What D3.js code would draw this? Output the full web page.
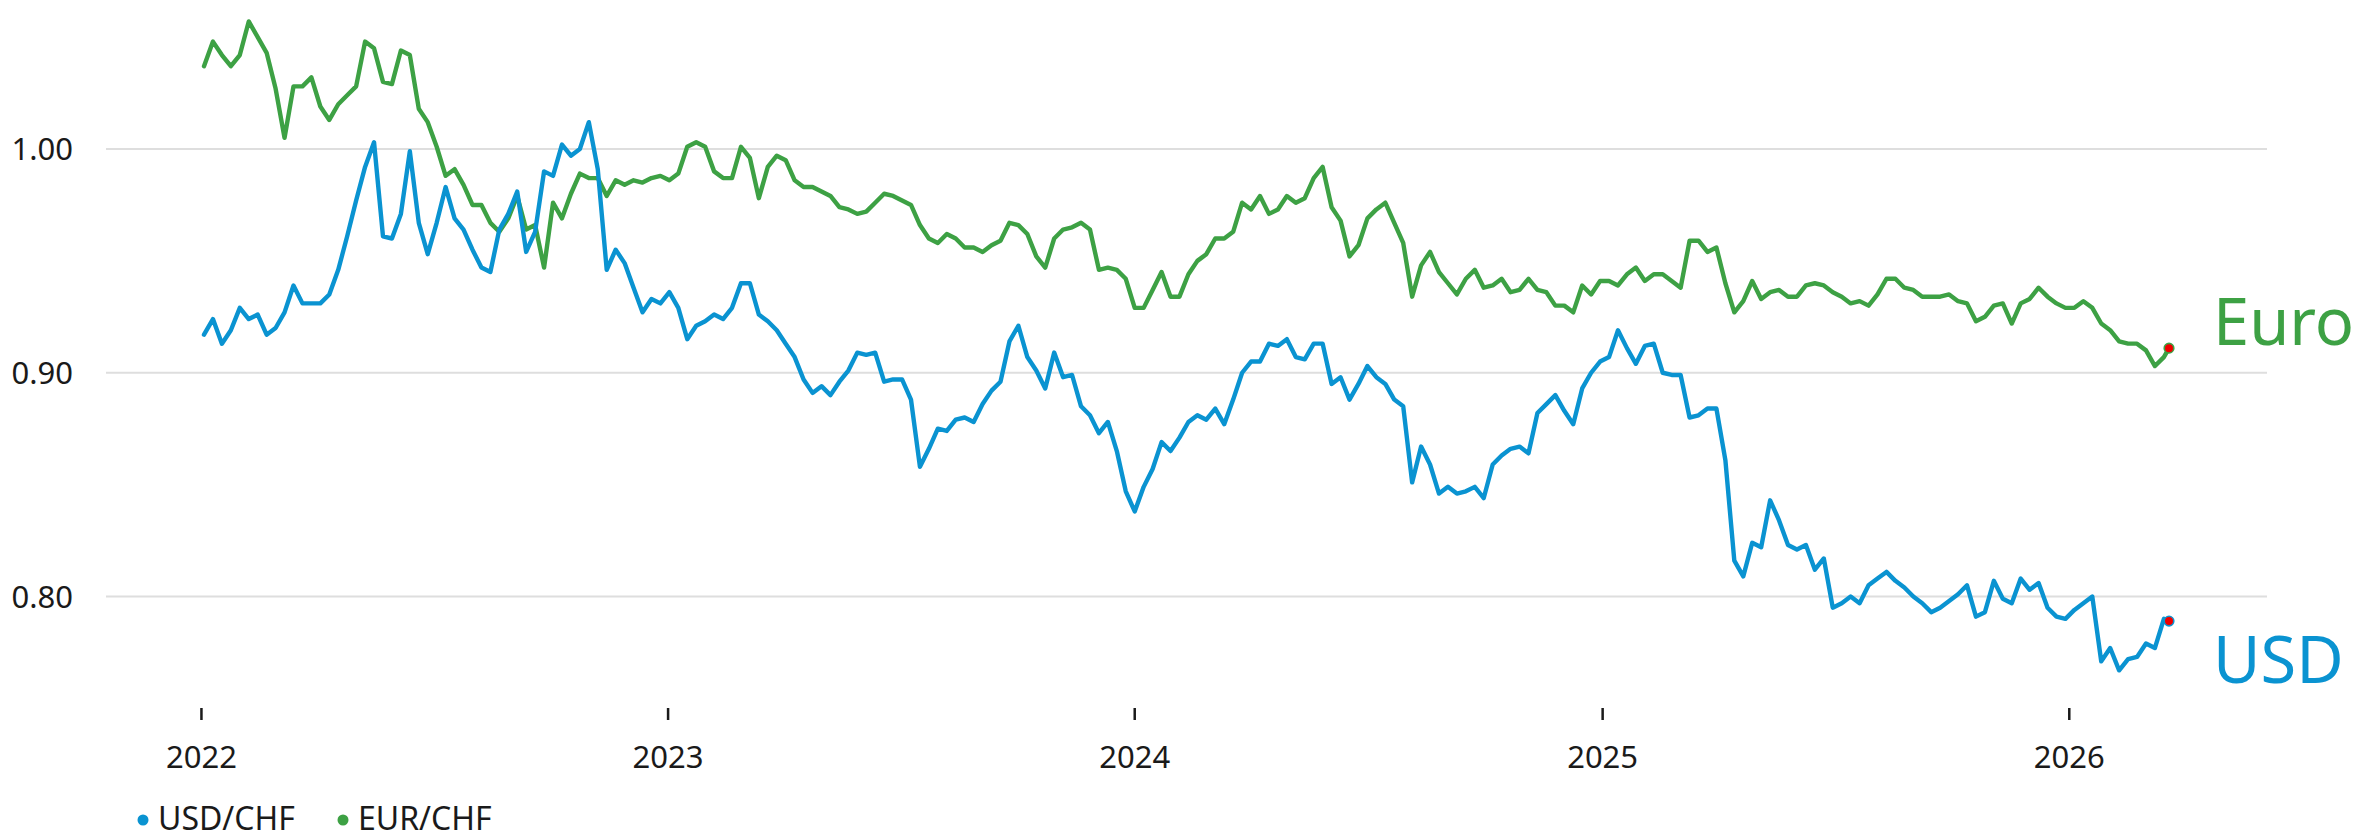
<!DOCTYPE html>
<html>
<head>
<meta charset="utf-8">
<script src="https://cdn.jsdelivr.net/npm/d3@7"></script>
<style>
  html, body { margin: 0; padding: 0; background: #fff; }
  #wrapper { width: 2379px; height: 839px; }
  text { font-family: "Noto Sans", sans-serif; fill: #1a1a1a; }
</style>
</head>
<body>
<div id="wrapper"></div>
<script>
// weekly closes (Mondays from 3 Jan 2022), last one is 20 Mar 2026
const firstWeek = new Date(2022, 0, 3)
const lastWeek = new Date(2026, 2, 17)
const lastDay = new Date(2026, 2, 20)

const usdChf = [
  0.917, 0.924, 0.913, 0.919, 0.929, 0.924, 0.926, 0.917, 0.920, 0.927,
  0.939, 0.931, 0.931, 0.931, 0.935, 0.946, 0.961, 0.977, 0.992, 1.003,
  0.961, 0.960, 0.971, 0.999, 0.967, 0.953, 0.967, 0.983, 0.969, 0.964,
  0.955, 0.947, 0.945, 0.964, 0.971, 0.981, 0.954, 0.963, 0.990, 0.988,
  1.002, 0.997, 1.000, 1.012, 0.991, 0.946, 0.955, 0.949, 0.938, 0.927,
  0.933, 0.931, 0.936, 0.929, 0.915, 0.921, 0.923, 0.926, 0.924, 0.929,
  0.940, 0.940, 0.926, 0.923, 0.919, 0.913, 0.907, 0.897, 0.891, 0.894,
  0.890, 0.896, 0.901, 0.909, 0.908, 0.909, 0.896, 0.897, 0.897, 0.888,
  0.858, 0.866, 0.875, 0.874, 0.879, 0.880, 0.878, 0.886, 0.892, 0.896,
  0.914, 0.921, 0.907, 0.901, 0.893, 0.909, 0.898, 0.899, 0.885, 0.881,
  0.873, 0.878, 0.865, 0.847, 0.838, 0.849, 0.857, 0.869, 0.865, 0.871,
  0.878, 0.881, 0.879, 0.884, 0.877, 0.888, 0.900, 0.905, 0.905, 0.913,
  0.912, 0.915, 0.907, 0.906, 0.913, 0.913, 0.895, 0.898, 0.888, 0.895,
  0.903, 0.898, 0.895, 0.888, 0.885, 0.851, 0.867, 0.859, 0.846, 0.849,
  0.846, 0.847, 0.849, 0.844, 0.859, 0.863, 0.866, 0.867, 0.864, 0.882,
  0.886, 0.890, 0.883, 0.877, 0.893, 0.900, 0.905, 0.907, 0.919, 0.911,
  0.904, 0.912, 0.913, 0.900, 0.899, 0.899, 0.880, 0.881, 0.884, 0.884,
  0.861, 0.816, 0.809, 0.824, 0.822, 0.843, 0.834, 0.823, 0.821, 0.823,
  0.812, 0.817, 0.795, 0.797, 0.800, 0.797, 0.805, 0.808, 0.811, 0.807,
  0.804, 0.800, 0.797, 0.793, 0.795, 0.798, 0.801, 0.805, 0.791, 0.793,
  0.807, 0.799, 0.797, 0.808, 0.803, 0.806, 0.795, 0.791, 0.790, 0.794,
  0.797, 0.800, 0.771, 0.777, 0.767, 0.772, 0.773, 0.779, 0.777, 0.790,
  0.789
]

const eurChf = [
  1.037, 1.048, 1.042, 1.037, 1.042, 1.057, 1.050, 1.043, 1.027, 1.005,
  1.028, 1.028, 1.032, 1.019, 1.013, 1.020, 1.024, 1.028, 1.048, 1.045,
  1.030, 1.029, 1.044, 1.042, 1.018, 1.012, 1.001, 0.988, 0.991, 0.984,
  0.975, 0.975, 0.967, 0.963, 0.969, 0.979, 0.964, 0.966, 0.947, 0.976,
  0.969, 0.980, 0.989, 0.987, 0.987, 0.979, 0.986, 0.984, 0.986, 0.985,
  0.987, 0.988, 0.986, 0.989, 1.001, 1.003, 1.001, 0.990, 0.987, 0.987,
  1.001, 0.996, 0.978, 0.992, 0.997, 0.995, 0.986, 0.983, 0.983, 0.981,
  0.979, 0.974, 0.973, 0.971, 0.972, 0.976, 0.980, 0.979, 0.977, 0.975,
  0.966, 0.960, 0.958, 0.962, 0.960, 0.956, 0.956, 0.954, 0.957, 0.959,
  0.967, 0.966, 0.962, 0.952, 0.947, 0.960, 0.964, 0.965, 0.967, 0.964,
  0.946, 0.947, 0.946, 0.942, 0.929, 0.929, 0.937, 0.945, 0.934, 0.934,
  0.944, 0.950, 0.953, 0.960, 0.960, 0.963, 0.976, 0.973, 0.979, 0.971,
  0.973, 0.979, 0.976, 0.978, 0.987, 0.992, 0.974, 0.968, 0.952, 0.957,
  0.969, 0.973, 0.976, 0.967, 0.958, 0.934, 0.948, 0.954, 0.945, 0.940,
  0.935, 0.942, 0.946, 0.938, 0.939, 0.942, 0.936, 0.937, 0.942, 0.937,
  0.936, 0.930, 0.930, 0.927, 0.939, 0.935, 0.941, 0.941, 0.939, 0.944,
  0.947, 0.941, 0.944, 0.944, 0.941, 0.938, 0.959, 0.959, 0.954, 0.956,
  0.940, 0.927, 0.932, 0.941, 0.933, 0.936, 0.937, 0.934, 0.934, 0.939,
  0.940, 0.939, 0.936, 0.934, 0.931, 0.932, 0.930, 0.935, 0.942, 0.942,
  0.938, 0.937, 0.934, 0.934, 0.934, 0.935, 0.932, 0.931, 0.923, 0.925,
  0.930, 0.931, 0.922, 0.931, 0.933, 0.938, 0.934, 0.931, 0.929, 0.929,
  0.932, 0.929, 0.922, 0.919, 0.914, 0.913, 0.913, 0.910, 0.903, 0.907,
  0.911
]

const yTicks = [0.80, 0.90, 1.00]
const seriesNames = ["USD/CHF", "EUR/CHF"]
const endLabels = ["USD", "Euro"]
const seriesColors = ["#0a93d1", "#3da144"]

function drawChart() {

  // 1. Access data

  const dates = d3.timeMonday.range(firstWeek, lastWeek)
  dates.push(lastDay)

  const series = [usdChf, eurChf].map((values, i) => ({
    name: seriesNames[i],
    label: endLabels[i],
    color: seriesColors[i],
    values: values.map((v, j) => ({ date: dates[j], value: v })),
  }))

  const dateAccessor = d => d.date
  const valueAccessor = d => d.value

  // 2. Create chart dimensions

  const dimensions = {
    width: 2379,
    height: 839,
    gridLeft: 106,
    gridRight: 2267,
    plotLeft: 204,
    plotRight: 2169,
    plotTop: 149,
    plotBottom: 596.5,
    tickTop: 708,
    tickBottom: 720,
    tickLabelY: 768,
    legendY: 820,
  }

  // 3. Draw canvas

  const wrapper = d3.select("#wrapper")
    .append("svg")
      .attr("width", dimensions.width)
      .attr("height", dimensions.height)

  const bounds = wrapper.append("g")

  // 4. Create scales

  const xScale = d3.scaleTime()
    .domain(d3.extent(dates))
    .range([dimensions.plotLeft, dimensions.plotRight])

  const yScale = d3.scaleLinear()
    .domain([0.80, 1.00])
    .range([dimensions.plotBottom, dimensions.plotTop])

  // 5. Draw peripherals

  const peripherals = bounds.append("g")

  peripherals.selectAll(".grid-line")
    .data(yTicks)
    .join("line")
      .attr("class", "grid-line")
      .attr("x1", dimensions.gridLeft)
      .attr("x2", dimensions.gridRight)
      .attr("y1", d => yScale(d))
      .attr("y2", d => yScale(d))
      .attr("stroke", "#dedede")
      .attr("stroke-width", 2)

  peripherals.selectAll(".y-label")
    .data(yTicks)
    .join("text")
      .attr("class", "y-label")
      .attr("x", 73)
      .attr("y", d => yScale(d))
      .attr("dy", "0.36em")
      .attr("text-anchor", "end")
      .style("font-size", "31px")
      .text(d => d3.format(".2f")(d))

  const years = d3.timeYear.range(new Date(2022, 0, 1), new Date(2026, 1, 1))

  peripherals.selectAll(".x-tick")
    .data(years)
    .join("line")
      .attr("class", "x-tick")
      .attr("x1", d => xScale(d))
      .attr("x2", d => xScale(d))
      .attr("y1", dimensions.tickTop)
      .attr("y2", dimensions.tickBottom)
      .attr("stroke", "#1a1a1a")
      .attr("stroke-width", 2.5)

  peripherals.selectAll(".x-label")
    .data(years)
    .join("text")
      .attr("class", "x-label")
      .attr("x", d => xScale(d))
      .attr("y", dimensions.tickLabelY)
      .attr("text-anchor", "middle")
      .style("font-size", "31px")
      .text(d3.timeFormat("%Y"))

  // 6. Draw data

  const lineGenerator = d3.line()
    .x(d => xScale(dateAccessor(d)))
    .y(d => yScale(valueAccessor(d)))

  // euro first so the dollar line sits on top
  const drawOrder = [series[1], series[0]]

  bounds.selectAll(".series-line")
    .data(drawOrder)
    .join("path")
      .attr("class", "series-line")
      .attr("d", d => lineGenerator(d.values))
      .attr("fill", "none")
      .attr("stroke", d => d.color)
      .attr("stroke-width", 4.4)
      .attr("stroke-linejoin", "round")
      .attr("stroke-linecap", "round")

  const lastPoints = series.map(s => ({ ...s, last: s.values[s.values.length - 1] }))

  bounds.selectAll(".end-dot")
    .data(lastPoints)
    .join("circle")
      .attr("class", "end-dot")
      .attr("cx", d => xScale(dateAccessor(d.last)))
      .attr("cy", d => yScale(valueAccessor(d.last)))
      .attr("r", 4.8)
      .attr("fill", "#f00000")
      .attr("stroke", d => d.color)
      .attr("stroke-width", 1.6)

  bounds.selectAll(".end-label")
    .data(lastPoints)
    .join("text")
      .attr("class", "end-label")
      .attr("x", 2213)
      .attr("y", d => d.label == "USD" ? 683 : 345)
      .style("font-size", "65px")
      .style("fill", d => d.color)
      .text(d => d.label)

  // 7. Legend

  const legend = bounds.append("g")
  const legendX = [143, 343]

  series.forEach((s, i) => {
    legend.append("circle")
      .attr("cx", legendX[i])
      .attr("cy", dimensions.legendY)
      .attr("r", 5.5)
      .attr("fill", s.color)

    legend.append("text")
      .attr("x", legendX[i] + 15)
      .attr("y", dimensions.legendY + 10)
      .style("font-size", "32px")
      .text(s.name)
  })
}
drawChart()
</script>
</body>
</html>
